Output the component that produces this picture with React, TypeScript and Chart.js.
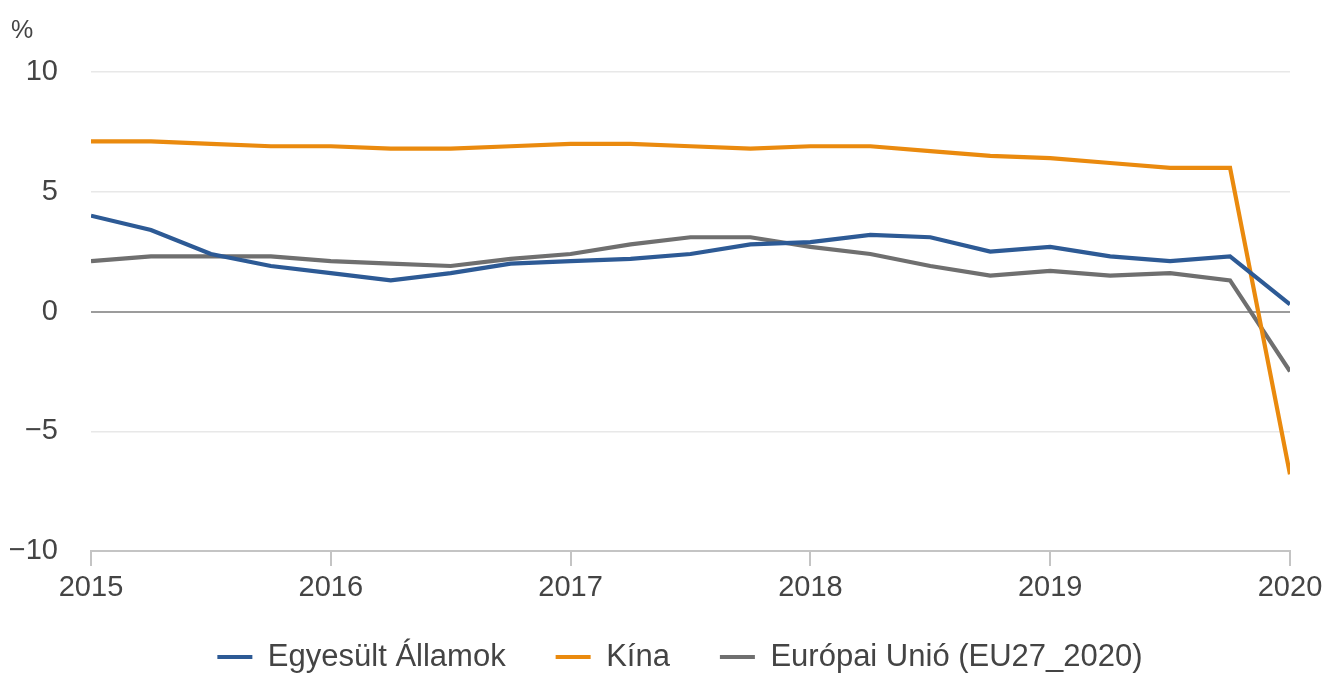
import React, { useEffect, useRef } from "react";
import { Chart, registerables } from "chart.js";

Chart.register(...registerables);

// ---- Data ----
const quarters = [
  "2015Q1", "2015Q2", "2015Q3", "2015Q4",
  "2016Q1", "2016Q2", "2016Q3", "2016Q4",
  "2017Q1", "2017Q2", "2017Q3", "2017Q4",
  "2018Q1", "2018Q2", "2018Q3", "2018Q4",
  "2019Q1", "2019Q2", "2019Q3", "2019Q4",
  "2020Q1",
];

const usValues = [
  4.0, 3.4, 2.4, 1.9,
  1.6, 1.3, 1.6, 2.0,
  2.1, 2.2, 2.4, 2.8,
  2.9, 3.2, 3.1, 2.5,
  2.7, 2.3, 2.1, 2.3,
  0.3,
];

const chinaValues = [
  7.1, 7.1, 7.0, 6.9,
  6.9, 6.8, 6.8, 6.9,
  7.0, 7.0, 6.9, 6.8,
  6.9, 6.9, 6.7, 6.5,
  6.4, 6.2, 6.0, 6.0,
  -6.8,
];

const euValues = [
  2.1, 2.3, 2.3, 2.3,
  2.1, 2.0, 1.9, 2.2,
  2.4, 2.8, 3.1, 3.1,
  2.7, 2.4, 1.9, 1.5,
  1.7, 1.5, 1.6, 1.3,
  -2.5,
];

const seriesNames = ["Egyesült Államok", "Kína", "Európai Unió (EU27_2020)"];
const seriesColors = ["#2d5a95", "#ea8a0e", "#6f6f6f"];
const yTickValues = [-10, -5, 0, 5, 10];
const xTickValues = [2015, 2016, 2017, 2018, 2019, 2020];
const unitLabel = "%";

const FONT = '"Liberation Sans", Arial, Helvetica, sans-serif';
const TEXT_COLOR = "#444444";

function quarterToX(q: string): number {
  const year = parseInt(q.slice(0, 4), 10);
  const n = parseInt(q.slice(5), 10);
  return year + (n - 1) / 4;
}

function toPoints(values: number[]) {
  return quarters.map((q, i) => ({ x: quarterToX(q), y: values[i] }));
}

const unitLabelPlugin = {
  id: "unitLabel",
  afterDraw(chart: any) {
    const ctx = chart.ctx;
    ctx.save();
    ctx.font = `25px ${FONT}`;
    ctx.fillStyle = TEXT_COLOR;
    ctx.textBaseline = "middle";
    ctx.textAlign = "left";
    ctx.fillText(unitLabel, 11, 31);
    ctx.restore();
  },
};

// shift the legend box so that it sits where the reference puts it
const legendShiftPlugin = {
  id: "legendShift",
  afterLayout(chart: any) {
    const lg = chart.legend;
    if (!lg) return;
    const dx = 31;
    const dy = -9.5;
    lg.left += dx;
    lg.right += dx;
    lg.top += dy;
  },
};

export default function App() {
  const canvasRef = useRef<HTMLCanvasElement | null>(null);

  useEffect(() => {
    if (!canvasRef.current) return;
    const allValues = [usValues, chinaValues, euValues];
    const chart = new Chart(canvasRef.current, {
      type: "line",
      data: {
        datasets: seriesNames.map((name, i) => ({
          label: name,
          data: toPoints(allValues[i]),
          borderColor: seriesColors[i],
          backgroundColor: seriesColors[i],
          borderWidth: 4.2,
          pointRadius: 0,
          pointHoverRadius: 0,
          tension: 0,
          fill: false,
        })),
      },
      options: {
        animation: false,
        responsive: true,
        maintainAspectRatio: false,
        layout: {
          autoPadding: false,
          padding: { left: 8, right: 36, top: 72, bottom: 0 },
        },
        scales: {
          x: {
            type: "linear",
            min: 2015,
            max: 2020,
            afterBuildTicks: (s: any) => {
              s.ticks = xTickValues.map((v) => ({ value: v }));
            },
            afterFit: (s: any) => {
              s.height = 50;
              s.paddingLeft = 0;
              s.paddingRight = 0;
            },
            ticks: {
              autoSkip: false,
              maxRotation: 0,
              padding: 5,
              color: TEXT_COLOR,
              font: { family: FONT, size: 29 },
              callback: (v: any) => String(v),
            },
            grid: {
              drawOnChartArea: false,
              drawTicks: true,
              tickLength: 15,
              color: "#c4c4c4",
              lineWidth: 2,
            },
            border: { display: true, color: "#c4c4c4", width: 2 },
          },
          y: {
            min: -10,
            max: 10,
            afterBuildTicks: (s: any) => {
              s.ticks = yTickValues.map((v) => ({ value: v }));
            },
            afterFit: (s: any) => {
              s.width = 83;
              s.paddingTop = 0;
              s.paddingBottom = 0;
            },
            ticks: {
              padding: 33,
              color: TEXT_COLOR,
              font: { family: FONT, size: 29 },
              callback: (v: any) => String(v).replace("-", "\u2212"),
            },
            grid: {
              drawTicks: false,
              color: (ctx: any) => (ctx.tick && ctx.tick.value === 0 ? "#9c9c9c" : "#e8e8e8"),
              lineWidth: (ctx: any) => (ctx.tick && ctx.tick.value === 0 ? 2 : 1.5),
            },
            border: { display: false },
          },
        },
        plugins: {
          legend: {
            display: true,
            position: "bottom",
            align: "center",
            maxHeight: 72,
            labels: {
              boxWidth: 35,
              boxHeight: 4,
              padding: 50,
              color: TEXT_COLOR,
              font: { family: FONT, size: 31 },
              generateLabels: (c: any) =>
                Chart.defaults.plugins.legend.labels
                  .generateLabels(c)
                  .map((l: any) => ({ ...l, lineWidth: 0 })),
            },
          },
          title: { display: false },
          tooltip: { enabled: false },
        },
      },
      plugins: [unitLabelPlugin, legendShiftPlugin],
    } as any);
    return () => chart.destroy();
  }, []);

  return (
    <div style={{ position: "fixed", left: 0, top: 0, width: 1326, height: 673, background: "#fff" }}>
      <canvas ref={canvasRef} />
    </div>
  );
}
